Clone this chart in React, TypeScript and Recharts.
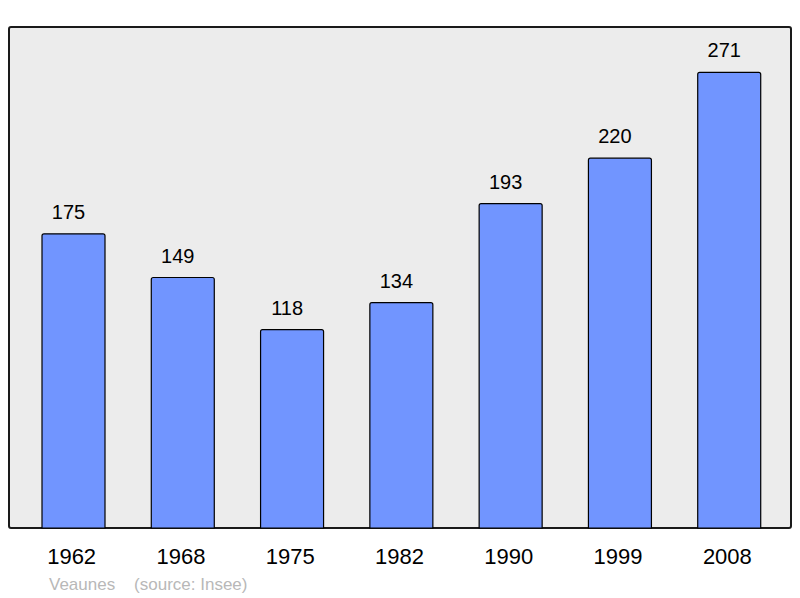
import { BarChart, Bar, XAxis, YAxis, LabelList } from "recharts";

// Population figures, per census year
const years = ["1962", "1968", "1975", "1982", "1990", "1999", "2008"];
const population = [175, 149, 118, 134, 193, 220, 271];

const BAR_COLOR = "#7195ff";
const PANEL_BG = "#ececec";

const data = years.map((year, i) => ({ year, value: population[i] }));

export default function App() {
  return (
    <div
      style={{
        position: "absolute",
        top: 0,
        left: 0,
        width: 800,
        height: 598,
        background: "#fff",
        fontFamily: "'Liberation Sans', Arial, sans-serif",
      }}
    >
      {/* panel behind the plot area */}
      <div
        style={{
          position: "absolute",
          left: 8,
          top: 26,
          width: 780,
          height: 499,
          background: PANEL_BG,
          border: "2px solid #1a1a1a",
          borderRadius: 3,
        }}
      />
      <div style={{ position: "absolute", top: 0, left: 0 }}>
        <BarChart
          width={800}
          height={598}
          data={data}
          margin={{ top: 27, right: 9, left: 9, bottom: 40 }}
        >
          <XAxis
            dataKey="year"
            axisLine={false}
            tickLine={false}
            tickSize={0}
            tickMargin={20}
            padding={{ left: 10, right: 7 }}
            tick={{ fontSize: 22, fill: "#000", dx: -2 }}
          />
          <YAxis hide domain={[0, 298]} />
          <Bar
            dataKey="value"
            fill={BAR_COLOR}
            stroke="#000"
            strokeWidth={1.2}
            barSize={63}
            radius={[2, 2, 0, 0]}
            isAnimationActive={false}
          >
            <LabelList
              dataKey="value"
              position="top"
              offset={15}
              dx={-5}
              style={{ fontSize: 20, fill: "#000" }}
            />
          </Bar>
        </BarChart>
      </div>
      <div
        style={{
          position: "absolute",
          left: 49,
          top: 575,
          fontSize: 17,
          color: "#b8b8b8",
          whiteSpace: "pre",
        }}
      >
        {"Veaunes    (source: Insee)"}
      </div>
    </div>
  );
}
